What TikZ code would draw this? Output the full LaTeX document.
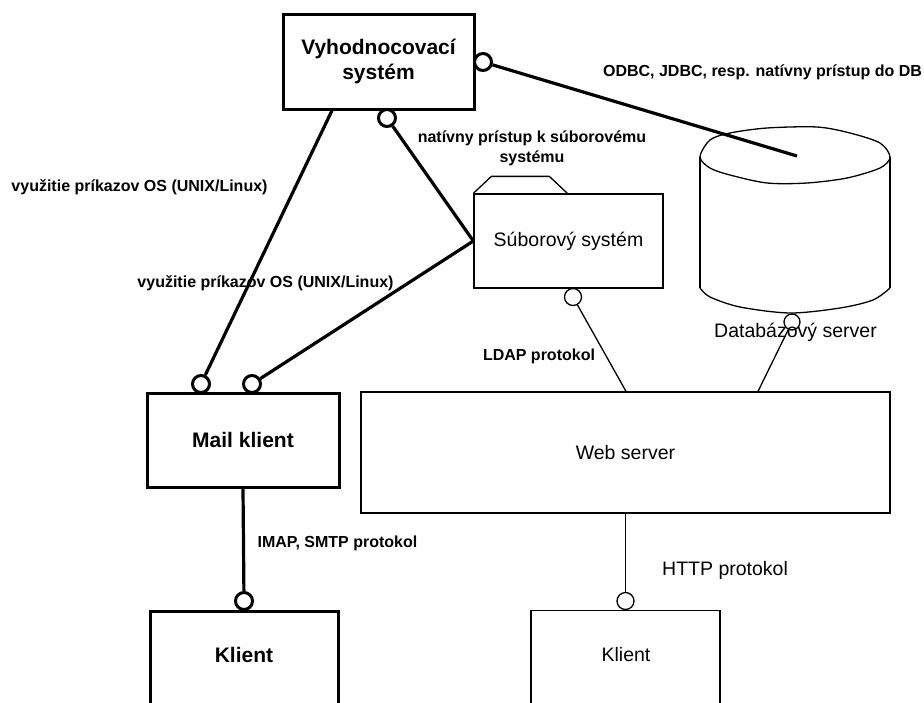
\documentclass[tikz,border=0pt]{standalone}
\usepackage{fontspec}
\setmainfont{Liberation Sans}
\tikzset{
  thickbox/.style={draw, line width=3pt, rectangle, inner sep=0pt, align=center},
  thinbox/.style={draw, line width=1.3pt, rectangle, inner sep=0pt, align=center},
  thickball/.style={draw, circle, line width=3pt, minimum size=17pt, inner sep=0pt, fill=white},
  thinball/.style={draw, circle, line width=1.3pt, minimum size=17pt, inner sep=0pt},
  thickline/.style={line width=3.2pt},
  thinline/.style={line width=1.3pt},
  lbl/.style={font=\fontsize{16pt}{20pt}\selectfont\bfseries, align=center, inner sep=0pt},
  reg/.style={font=\fontsize{19.5pt}{23pt}\selectfont, align=center, inner sep=0pt},
  boxbold/.style={font=\fontsize{21pt}{25pt}\selectfont\bfseries, align=center}
}
\begin{document}
\begin{tikzpicture}[x=1pt,y=-1pt]
\useasboundingbox (0,0) rectangle (924,702);
\fill[white] (0,0) rectangle (924,702);
\clip (0,0) rectangle (924,702);

% database cylinder
\draw[thinline, line join=round] plot[smooth cycle, tension=0.5] coordinates {(700,157) (710,140) (730,133) (767,128) (817,127) (850,133) (880,143) (890,157) (880,168) (847,178) (807,183) (767,183) (730,175) (710,168)};
\draw[thinline] (700,157) -- (700,288);
\draw[thinline] plot[smooth, tension=0.5] coordinates {(700,288) (710,297) (740,307) (790,313) (840,308) (873,300) (890,288)};
\draw[thinline] (890,288) -- (890,157);
\coordinate (dbend) at (797,156);

% components
\node[thickbox, boxbold, minimum width=191pt, minimum height=95pt] (vs) at (378.5,61.5) {Vyhodnocovací\\systém};
\node[thinbox, reg, minimum width=189pt, minimum height=94pt] (sfs) at (568.5,241) {Súborový systém};
\draw[thinline, line join=round] (sfs.north west) -- ++(18,-17) -- ++(58,0) -- ([xshift=94pt]sfs.north west);
\node[thinbox, reg, minimum width=529pt, minimum height=121pt] (web) at (625.5,452.5) {Web server};
\node[thickbox, boxbold, minimum width=192pt, minimum height=94pt] (mail) at (243,440) {Mail klient};
\node[thickbox, anchor=north, minimum width=188pt, minimum height=130pt] (k1) at (244,610) {};
\node[boxbold] (k1t) at (244,655) {Klient};
\node[thinbox, anchor=north, minimum width=189pt, minimum height=130pt] (k2) at (625.5,610) {};
\node[reg] (k2t) at (626,655) {Klient};
\node[reg] (dbt) at (795.5,332) {Databázový server};

% interface balls
\node[thickball] (vsR) at (483,62) {};
\node[thickball] (vsB) at (387,118) {};
\node[thickball] (mA) at (201,384) {};
\node[thickball] (mB) at (252,384) {};
\node[thickball] (k1c) at (244,601) {};
\node[thinball] (sfsc) at (573,297) {};
\node[thinball, minimum size=16pt] (dbc) at (792,322) {};
\node[thinball] (k2c) at (625.5,601) {};

% connectors
\draw[thickline] (vsR) -- (dbend);
\draw[thickline] (vsB) -- (sfs.west);
\draw[thickline] ([xshift=-46.5pt]vs.south) -- (mA);
\draw[thickline] (sfs.west) -- (mB);
\draw[thickline] (mail.south) -- (k1c);
\draw[thinline] (sfsc) -- ([xshift=0.5pt]web.north);
\draw[thinline] (dbc) -- ([xshift=132.5pt]web.north);
\draw[thinline] (web.south) -- (k2c);

% connector labels
\node[lbl] (odbc) at (762.5,72) {ODBC, JDBC, resp. natívny prístup do DB};
\node[lbl] (nat) at (532,148) {natívny prístup k súborovému\\systému};
\node[lbl] (os1) at (139.5,187) {využitie príkazov OS (UNIX/Linux)};
\node[lbl] (os2) at (265.5,283) {využitie príkazov OS (UNIX/Linux)};
\node[lbl] (ldap) at (539,356) {LDAP protokol};
\node[lbl] (imap) at (337.5,543) {IMAP, SMTP protokol};
\node[reg, anchor=west] (http) at (662,570) {HTTP protokol};
\end{tikzpicture}
\end{document}
